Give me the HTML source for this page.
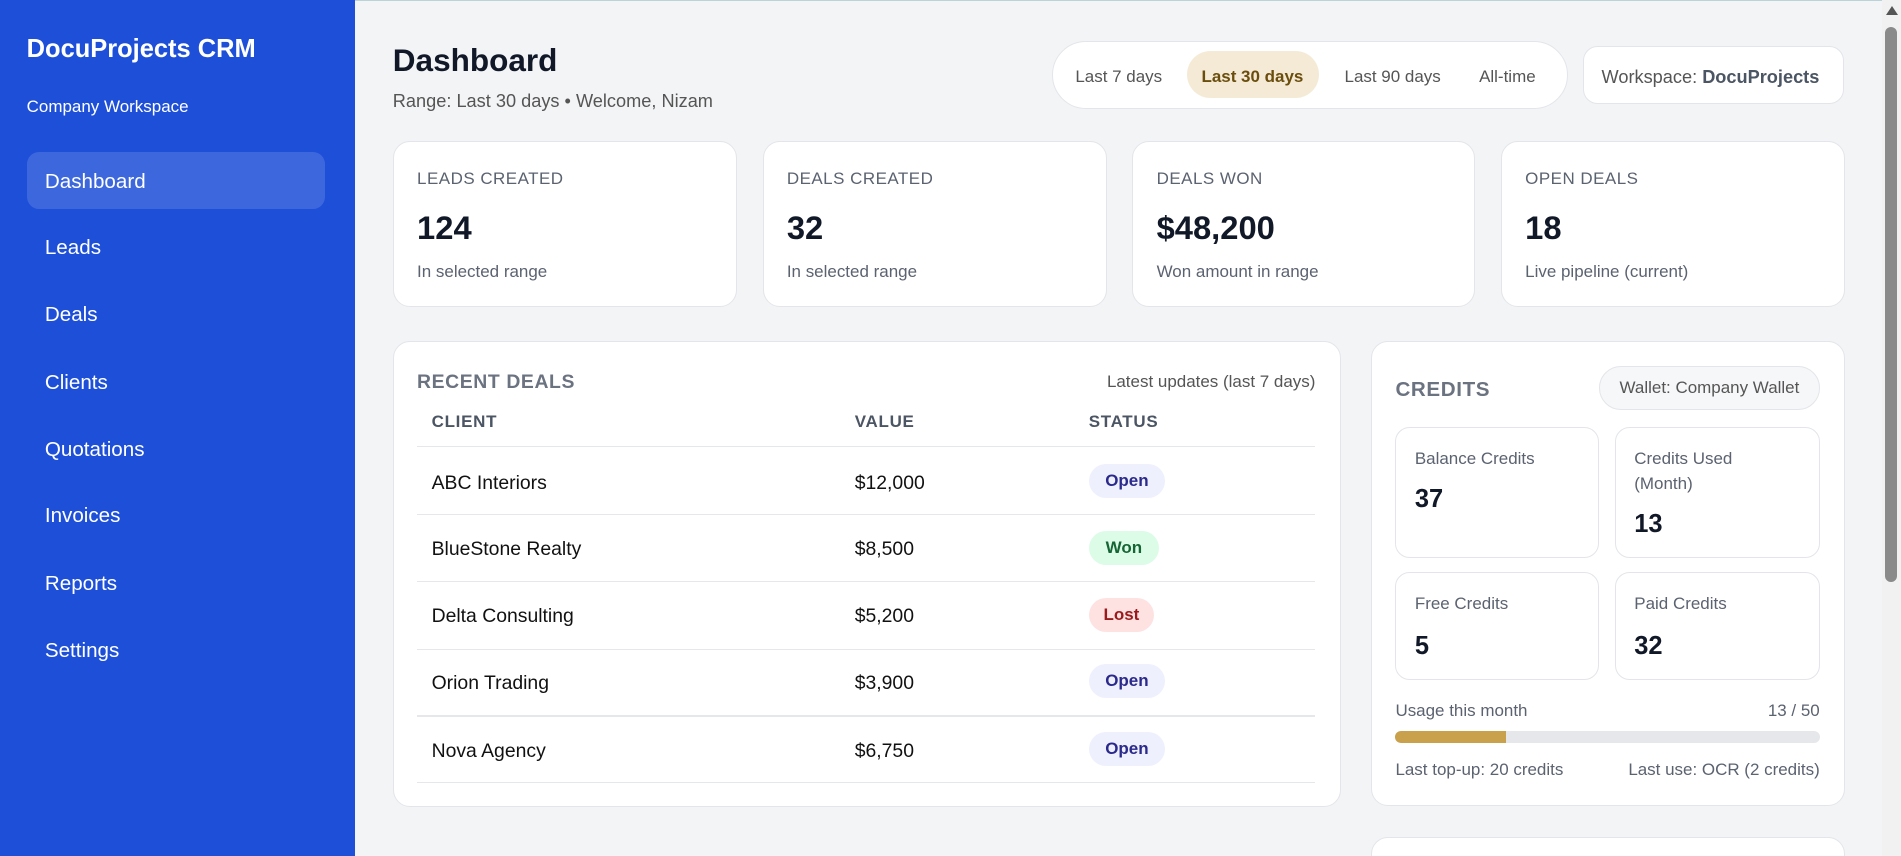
<!DOCTYPE html>
<html><head><meta charset="utf-8"><style>
html,body{margin:0;padding:0;width:1901px;height:856px;overflow:hidden;background:#f3f4f6;font-family:"Liberation Sans",sans-serif;}
#w{position:absolute;left:0;top:0;width:1568px;height:706px;zoom:1.21237;overflow:hidden;background:#f3f4f6;}
.a{position:absolute;}
.sb{left:0;top:0;width:293px;height:706px;background:#1e4fd8;color:#fff;}
.nav{left:37px;font-size:17px;color:#fff;line-height:20px;}
.card{background:#fff;border:1px solid #e3e5ea;border-radius:14px;box-sizing:border-box;}
.lbl{font-size:14px;color:#5b6270;letter-spacing:.4px;}
.val{font-size:27px;font-weight:bold;color:#111827;}
.sub{font-size:14px;color:#5b6270;}
.th{font-size:14px;font-weight:bold;color:#4b5563;letter-spacing:.6px;}
.td{font-size:16px;color:#111;}
.line{height:1px;background:#e5e7eb;left:344px;width:741px;}
.badge{font-size:14px;font-weight:bold;border-radius:14px;height:28px;line-height:28px;text-align:center;}
.op{background:#eef0fd;color:#2b2a8c;width:63px;}
.sc{font-size:14px;color:#5b6270;}
.sv{font-size:21px;font-weight:bold;color:#111827;}
</style></head><body><div id="w">
<div class="a" style="left:0;top:0;width:1568px;height:1px;background:#b9d3d8"></div>
<div class="a sb">
 <div class="a" style="left:22px;top:29px;font-size:21px;font-weight:bold">DocuProjects CRM</div>
 <div class="a" style="left:22px;top:80px;font-size:14px">Company Workspace</div>
 <div class="a" style="left:22px;top:125px;width:246px;height:47px;border-radius:10px;background:rgba(255,255,255,.14)"></div>
</div>
<div class="a nav" style="top:140px">Dashboard</div>
<div class="a nav" style="top:195px">Leads</div>
<div class="a nav" style="top:250px">Deals</div>
<div class="a nav" style="top:306px">Clients</div>
<div class="a nav" style="top:361px">Quotations</div>
<div class="a nav" style="top:416px">Invoices</div>
<div class="a nav" style="top:472px">Reports</div>
<div class="a nav" style="top:527px">Settings</div>

<div class="a" style="left:324px;top:35px;font-size:26px;font-weight:bold;color:#111827">Dashboard</div>
<div class="a" style="left:324px;top:75px;font-size:15px;color:#555">Range: Last 30 days • Welcome, Nizam</div>

<div class="a card" style="left:868px;top:34px;width:425px;height:56px;border-radius:28px"></div>
<div class="a" style="left:979px;top:42px;width:109px;height:39px;border-radius:20px;background:#f4ead6"></div>
<div class="a" style="left:887px;top:55px;font-size:14px;color:#555">Last 7 days</div>
<div class="a" style="left:991px;top:55px;font-size:14px;color:#6b4e0e;font-weight:bold">Last 30 days</div>
<div class="a" style="left:1109px;top:55px;font-size:14px;color:#555">Last 90 days</div>
<div class="a" style="left:1220px;top:55px;font-size:14px;color:#555">All-time</div>
<div class="a card" style="left:1306px;top:38px;width:215px;height:48px;border-radius:12px"></div>
<div class="a" style="left:1321px;top:55px;font-size:15px;color:#555">Workspace: <b style="color:#4b5563">DocuProjects</b></div>

<div class="a card" style="left:324px;top:116px;width:284px;height:137px"></div>
<div class="a card" style="left:629px;top:116px;width:284px;height:137px"></div>
<div class="a card" style="left:934px;top:116px;width:283px;height:137px"></div>
<div class="a card" style="left:1238px;top:116px;width:284px;height:137px"></div>
<div class="a lbl" style="left:344px;top:139px">LEADS CREATED</div>
<div class="a val" style="left:344px;top:172px">124</div>
<div class="a sub" style="left:344px;top:216px">In selected range</div>
<div class="a lbl" style="left:649px;top:139px">DEALS CREATED</div>
<div class="a val" style="left:649px;top:172px">32</div>
<div class="a sub" style="left:649px;top:216px">In selected range</div>
<div class="a lbl" style="left:954px;top:139px">DEALS WON</div>
<div class="a val" style="left:954px;top:172px">$48,200</div>
<div class="a sub" style="left:954px;top:216px">Won amount in range</div>
<div class="a lbl" style="left:1258px;top:139px">OPEN DEALS</div>
<div class="a val" style="left:1258px;top:172px">18</div>
<div class="a sub" style="left:1258px;top:216px">Live pipeline (current)</div>

<div class="a card" style="left:324px;top:281px;width:782px;height:385px"></div>
<div class="a" style="left:344px;top:306px;font-size:16px;font-weight:bold;color:#6b7280;letter-spacing:.5px">RECENT DEALS</div>
<div class="a" style="left:885px;width:200px;text-align:right;top:307px;font-size:14px;color:#555">Latest updates (last 7 days)</div>
<div class="a th" style="left:356px;top:340px">CLIENT</div>
<div class="a th" style="left:705px;top:340px">VALUE</div>
<div class="a th" style="left:898px;top:340px">STATUS</div>
<div class="a line" style="top:368px"></div>
<div class="a line" style="top:424px"></div>
<div class="a line" style="top:479px"></div>
<div class="a line" style="top:535px"></div>
<div class="a line" style="top:590px"></div>
<div class="a line" style="top:645px"></div>
<div class="a td" style="left:356px;top:389px">ABC Interiors</div><div class="a td" style="left:705px;top:389px">$12,000</div>
<div class="a badge op" style="left:898px;top:383px">Open</div>
<div class="a td" style="left:356px;top:444px">BlueStone Realty</div><div class="a td" style="left:705px;top:444px">$8,500</div>
<div class="a badge" style="left:898px;top:438px;width:58px;background:#dcfce7;color:#166534">Won</div>
<div class="a td" style="left:356px;top:499px">Delta Consulting</div><div class="a td" style="left:705px;top:499px">$5,200</div>
<div class="a badge" style="left:898px;top:493px;width:54px;background:#fee2e2;color:#991b1b">Lost</div>
<div class="a td" style="left:356px;top:554px">Orion Trading</div><div class="a td" style="left:705px;top:554px">$3,900</div>
<div class="a badge op" style="left:898px;top:548px">Open</div>
<div class="a td" style="left:356px;top:610px">Nova Agency</div><div class="a td" style="left:705px;top:610px">$6,750</div>
<div class="a badge op" style="left:898px;top:604px">Open</div>

<div class="a card" style="left:1131px;top:281px;width:391px;height:384px"></div>
<div class="a" style="left:1151px;top:312px;font-size:17px;font-weight:bold;color:#6b7280;letter-spacing:.5px">CREDITS</div>
<div class="a" style="left:1319px;top:302px;width:182px;height:36px;box-sizing:border-box;border:1px solid #e3e5ea;border-radius:18px;background:#f6f7f9;font-size:14px;color:#555;text-align:center;line-height:34px">Wallet: Company Wallet</div>
<div class="a card" style="left:1151px;top:352px;width:168px;height:108px;border-radius:12px"></div>
<div class="a card" style="left:1332px;top:352px;width:169px;height:108px;border-radius:12px"></div>
<div class="a card" style="left:1151px;top:472px;width:168px;height:89px;border-radius:12px"></div>
<div class="a card" style="left:1332px;top:472px;width:169px;height:89px;border-radius:12px"></div>
<div class="a sc" style="left:1167px;top:370px">Balance Credits</div>
<div class="a sv" style="left:1167px;top:400px">37</div>
<div class="a sc" style="left:1348px;top:369px;line-height:20px">Credits Used<br>(Month)</div>
<div class="a sv" style="left:1348px;top:421px">13</div>
<div class="a sc" style="left:1167px;top:490px">Free Credits</div>
<div class="a sv" style="left:1167px;top:521px">5</div>
<div class="a sc" style="left:1348px;top:490px">Paid Credits</div>
<div class="a sv" style="left:1348px;top:521px">32</div>
<div class="a sc" style="left:1151px;top:578px">Usage this month</div>
<div class="a sc" style="left:1400px;width:101px;text-align:right;top:578px">13 / 50</div>
<div class="a" style="left:1151px;top:603px;width:350px;height:10px;border-radius:5px;background:#e5e7eb;overflow:hidden"><div style="width:91px;height:10px;background:#c9a04c"></div></div>
<div class="a sc" style="left:1151px;top:627px">Last top-up: 20 credits</div>
<div class="a sc" style="left:1300px;width:201px;text-align:right;top:627px">Last use: OCR (2 credits)</div>

<div class="a card" style="left:1131px;top:690px;width:391px;height:30px"></div>
<div class="a" style="left:1552px;top:0;width:16px;height:706px;background:#f1f1f1"></div>
<div class="a" style="left:1555px;top:22px;width:10px;height:458px;border-radius:5px;background:#8a8a8a"></div>
<div class="a" style="left:1556px;top:5px;width:0;height:0;border-left:5px solid transparent;border-right:5px solid transparent;border-bottom:8px solid #555"></div>
</div></body></html>
